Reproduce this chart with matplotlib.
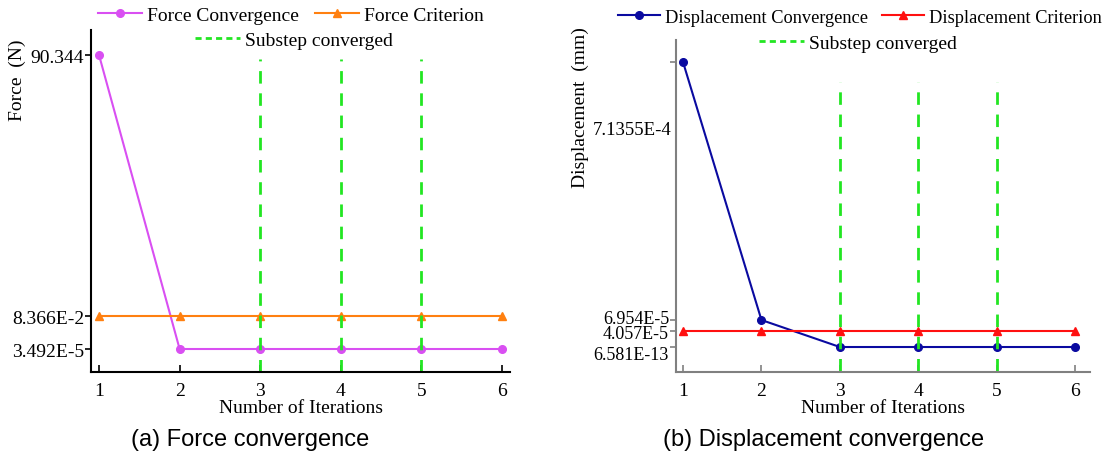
import numpy as np
import matplotlib
matplotlib.use("Agg")
import matplotlib.pyplot as plt
import matplotlib.transforms as mtrans
from matplotlib.lines import Line2D

plt.rcParams['font.family'] = ['Liberation Serif', 'DejaVu Serif']
plt.rcParams['font.size'] = 14

iters = [1, 2, 3, 4, 5, 6]
substep_iters = [3, 4, 5]

force_conv = [90.344, 3.492e-5, 3.492e-5, 3.492e-5, 3.492e-5, 3.492e-5]
force_crit = [8.366e-2] * 6
force_ticks = [3.492e-5, 8.366e-2, 90.344]
force_ticklabels = ['3.492E-5', '8.366E-2', '90.344']

disp_conv = [7.1355e-4, 6.954e-5, 6.581e-13, 6.581e-13, 6.581e-13, 6.581e-13]
disp_crit = [4.057e-5] * 6
disp_ticks = [6.581e-13, 4.057e-5, 6.954e-5, 7.1355e-4]
disp_ticklabels = ['6.581E-13', '4.057E-5', '6.954E-5', '']

# the original axis is hand-spaced: piecewise mapping in log space
force_logs = [-6, np.log10(3.492e-5), np.log10(8.366e-2), np.log10(90.344), 2.25]
force_pos = [0, 23, 56, 317, 342]
disp_logs = [-14, np.log10(6.581e-13), np.log10(4.057e-5), np.log10(6.954e-5),
             np.log10(7.1355e-4), -3.058]
disp_pos = [0, 25, 41, 52, 310, 332]


def make_scale(logs, pos):
    def fwd(v):
        v = np.clip(np.asarray(v, dtype=float), 1e-300, None)
        return np.interp(np.log10(v), logs, pos)

    def inv(p):
        return 10 ** np.interp(p, pos, logs)
    return fwd, inv


fig = plt.figure(figsize=(11.13, 4.56), dpi=100)
ax1 = fig.add_axes([0.0818, 0.182, 0.3764, 0.75])
ax2 = fig.add_axes([0.6074, 0.182, 0.372, 0.728])

green = '#22e622'
leg_kw = dict(frameon=False, handlelength=2.3, handletextpad=0.25,
              columnspacing=0.8, borderaxespad=0, borderpad=0)

# ---- (a) force
ax1.set_yscale('function', functions=make_scale(force_logs, force_pos))
ax1.set_ylim(10 ** force_logs[0], 10 ** force_logs[-1])
ax1.set_xlim(0.901, 6.099)
l1, = ax1.plot(iters, force_conv, '-o', color='#d94ff2', lw=1.5, ms=5.5)
l2, = ax1.plot(iters, force_crit, '-^', color='#ff8010', lw=1.5, ms=5.5)
for x in substep_iters:
    ax1.axvline(x, ymin=0, ymax=0.915, color=green, lw=2, dashes=(4.5, 3.5))
ax1.set_yticks(force_ticks)
ax1.set_yticklabels(force_ticklabels)
ax1.set_xticks(iters)
ax1.yaxis.set_minor_locator(plt.NullLocator())
ax1.set_xlabel('Number of Iterations', labelpad=0)
ax1.set_ylabel('Force  (N)')
ax1.yaxis.set_label_coords(-0.155, 0.857)
g = Line2D([], [], color=green, lw=2, dashes=(2.2, 1.5))
lg = ax1.legend([l1, l2], ['Force Convergence', 'Force Criterion'], ncol=2,
                loc='center', bbox_to_anchor=(0.477, 1.044), **leg_kw)
ax1.add_artist(lg)
ax1.legend([g], ['Substep converged'], loc='center',
           bbox_to_anchor=(0.485, 0.971), **leg_kw)

# ---- (b) displacement
ax2.set_yscale('function', functions=make_scale(disp_logs, disp_pos))
ax2.set_ylim(10 ** disp_logs[0], 10 ** disp_logs[-1])
ax2.set_xlim(0.911, 6.19)
l3, = ax2.plot(iters, disp_conv, '-o', color='#0a0aa0', lw=1.5, ms=5.5)
l4, = ax2.plot(iters, disp_crit, '-^', color='#ff1010', lw=1.5, ms=5.5)
for x in substep_iters:
    ax2.axvline(x, ymin=0.003, ymax=0.873, color=green, lw=2, dashes=(4.5, 3.5))
ax2.set_yticks(disp_ticks)
ax2.set_yticklabels(disp_ticklabels, fontsize=13)
ax2.set_xticks(iters)
ax2.yaxis.set_minor_locator(plt.NullLocator())
ax2.text(-0.01, 0.732, '7.1355E-4', transform=ax2.transAxes, ha='right',
         va='center', fontsize=13.5)
ax2.set_xlabel('Number of Iterations', labelpad=0)
ax2.set_ylabel('Displacement  (mm)')
ax2.yaxis.set_label_coords(-0.21, 0.80)
lg2 = ax2.legend([l3, l4], ['Displacement Convergence', 'Displacement Criterion'],
                 ncol=2, loc='center', bbox_to_anchor=(0.444, 1.069),
                 fontsize=13.2, **leg_kw)
ax2.add_artist(lg2)
ax2.legend([g], ['Substep converged'], loc='center',
           bbox_to_anchor=(0.44, 0.991), **leg_kw)

for ax, sc in [(ax1, 'black'), (ax2, '#808080')]:
    ax.spines['top'].set_visible(False)
    ax.spines['right'].set_visible(False)
    ax.spines['left'].set_color(sc)
    ax.spines['bottom'].set_color(sc)
    ax.spines['left'].set_linewidth(1.5)
    ax.spines['bottom'].set_linewidth(1.5)
    ax.tick_params(axis='x', direction='in', length=5, width=1.2, color=sc, pad=7)
    ax.tick_params(axis='y', direction='out', length=4, width=1.2, color=sc, pad=1)

# spread the crowded labels a little, as in the original
for tick, dy in zip(ax2.yaxis.get_major_ticks(), [-5, 0, 4, 0]):
    lab = tick.label1
    lab.set_transform(lab.get_transform() +
                      mtrans.ScaledTranslation(0, dy / 100, fig.dpi_scale_trans))

fig.text(0.2245, 0.035, '(a) Force convergence', family='Liberation Sans',
         fontsize=17, ha='center', va='center')
fig.text(0.74, 0.035, '(b) Displacement convergence', family='Liberation Sans',
         fontsize=17, ha='center', va='center')

fig.savefig('out.png', dpi=100)
